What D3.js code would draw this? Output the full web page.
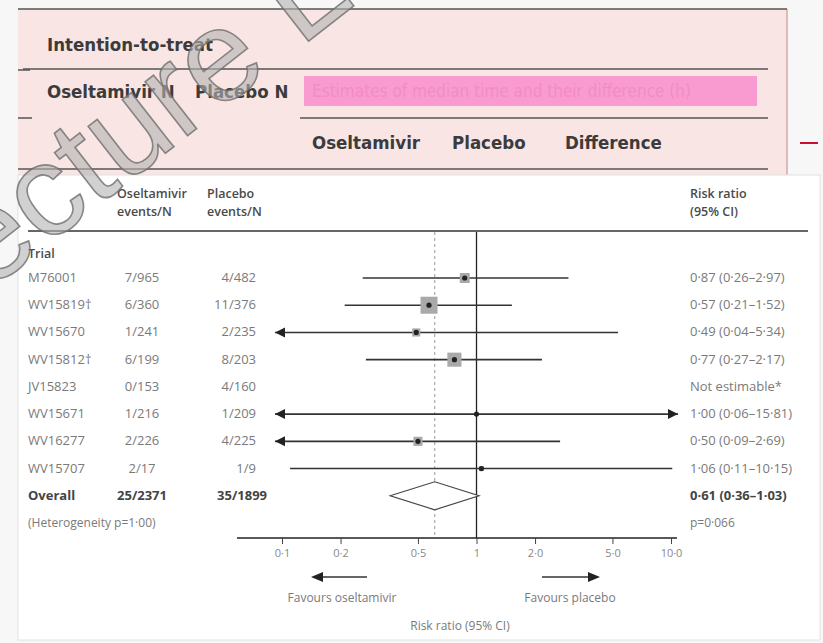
<!DOCTYPE html>
<html lang="en">
<head>
<meta charset="utf-8">
<script src="https://d3js.org/d3.v7.min.js"></script>
<style>
	body { margin: 0; background: #f7f7f7; }
	svg text { font-family: "Open Sans", "Noto Sans", sans-serif; }
	.hd { font-family: "DejaVu Sans Condensed", "Liberation Sans Narrow", "DejaVu Sans", sans-serif; font-stretch: condensed; font-weight: bold; font-size: 18.5px; fill: #3b3b3b; }
	.row { font-size: 13px; fill: #7a7a7a; }
	.colhd { font-size: 12.5px; fill: #4a4a4a; font-weight: 600; }
</style>
<title>Forest plot</title>
</head>
<body>
<script>
	// trial rows
	var trials = ["M76001", "WV15819†", "WV15670", "WV15812†", "JV15823", "WV15671", "WV16277", "WV15707"];
	var oselEvents = ["7/965", "6/360", "1/241", "6/199", "0/153", "1/216", "2/226", "2/17"];
	var placEvents = ["4/482", "11/376", "2/235", "8/203", "4/160", "1/209", "4/225", "1/9"];
	var rr = [0.87, 0.57, 0.49, 0.77, null, 1.00, 0.50, 1.06];
	var lo = [0.26, 0.21, 0.04, 0.27, null, 0.06, 0.09, 0.11];
	var hi = [2.97, 1.52, 5.34, 2.17, null, 15.81, 2.69, 10.15];
	var weight = [12, 35, 8, 24, 0, 1, 10, 3];
	var ciText = ["0·87 (0·26–2·97)", "0·57 (0·21–1·52)", "0·49 (0·04–5·34)", "0·77 (0·27–2·17)",
		"Not estimable*", "1·00 (0·06–15·81)", "0·50 (0·09–2·69)", "1·06 (0·11–10·15)"];

	// pooled result
	var overallEvents = ["25/2371", "35/1899"];
	var overallRR = [0.61, 0.36, 1.03];
	var overallText = "0·61 (0·36–1·03)";
	var heteroText = "(Heterogeneity p=1·00)";
	var pText = "p=0·066";

	// axis
	var tickValues = [0.1, 0.2, 0.5, 1, 2, 5, 10];
	var tickLabels = ["0·1", "0·2", "0·5", "1", "2·0", "5·0", "10·0"];

	var w = 823, h = 643;
	var svg = d3.select("body").append("svg").attr("width", w).attr("height", h);

	var x = d3.scaleLog().domain([0.1, 10]).range([282, 671]);
	var y = d3.scaleLinear().domain([0, 9]).range([278, 523]);
	var box = d3.scaleSqrt().domain([0, 35]).range([0, 17]);
	var xMin = x(0.1) - 7, xMax = x(10) + 7;

	// ---- pink header table ----
	svg.append("rect").attr("x", 18).attr("y", 9).attr("width", 769).attr("height", 166)
		.attr("fill", "#f8e5e4");
	svg.append("line").attr("x1", 787).attr("x2", 787).attr("y1", 9).attr("y2", 175)
		.attr("stroke", "#d6a9a9").attr("stroke-width", 1.5);
	var hl = [[18, 787, 9], [23, 768, 69], [300, 768, 118], [18, 768, 169], [18, 30, 70], [18, 32, 118]];
	svg.selectAll(".hl").data(hl).enter().append("line")
		.attr("x1", function(d) { return d[0]; }).attr("x2", function(d) { return d[1]; })
		.attr("y1", function(d) { return d[2]; }).attr("y2", function(d) { return d[2]; })
		.attr("stroke", "#555").attr("stroke-width", 1.5);
	svg.append("rect").attr("x", 304).attr("y", 76).attr("width", 453).attr("height", 30).attr("fill", "#f99bd0");
	svg.append("text").attr("class", "hd").attr("x", 312).attr("y", 97).style("fill", "#f28cc6").style("font-weight", "normal")
		.style("font-size", "17px").text("Estimates of median time and their difference (h)");
	svg.append("text").attr("class", "hd").attr("x", 47).attr("y", 51).text("Intention-to-treat");
	svg.append("text").attr("class", "hd").attr("x", 47).attr("y", 98).text("Oseltamivir N");
	svg.append("text").attr("class", "hd").attr("x", 195).attr("y", 98).text("Placebo N");
	svg.append("text").attr("class", "hd").attr("x", 312).attr("y", 149).text("Oseltamivir");
	svg.append("text").attr("class", "hd").attr("x", 452).attr("y", 149).text("Placebo");
	svg.append("text").attr("class", "hd").attr("x", 565).attr("y", 149).text("Difference");
	svg.append("line").attr("x1", 800).attr("x2", 818).attr("y1", 143).attr("y2", 143)
		.attr("stroke", "#c8102e").attr("stroke-width", 2);

	// ---- forest plot panel ----
	svg.append("rect").attr("x", 18).attr("y", 175).attr("width", 802).attr("height", 465)
		.attr("fill", "#fff").attr("stroke", "#e2e2e2");

	svg.append("text").attr("class", "colhd").attr("x", 117).attr("y", 198).text("Oseltamivir");
	svg.append("text").attr("class", "colhd").attr("x", 117).attr("y", 216).text("events/N");
	svg.append("text").attr("class", "colhd").attr("x", 207).attr("y", 198).text("Placebo");
	svg.append("text").attr("class", "colhd").attr("x", 207).attr("y", 216).text("events/N");
	svg.append("text").attr("class", "colhd").attr("x", 690).attr("y", 198).text("Risk ratio");
	svg.append("text").attr("class", "colhd").attr("x", 690).attr("y", 216).text("(95% CI)");
	svg.append("line").attr("x1", 28).attr("x2", 808).attr("y1", 231).attr("y2", 231)
		.attr("stroke", "#333").attr("stroke-width", 1.5);
	svg.append("text").attr("class", "colhd").attr("x", 28).attr("y", 258).text("Trial");

	// reference lines
	svg.append("line").attr("x1", x(overallRR[0])).attr("x2", x(overallRR[0])).attr("y1", 232).attr("y2", 538)
		.attr("stroke", "#999").attr("stroke-dasharray", "3,3");
	svg.append("line").attr("x1", x(1)).attr("x2", x(1)).attr("y1", 232).attr("y2", 538)
		.attr("stroke", "#222").attr("stroke-width", 1.3);

	var idx = d3.range(trials.length);
	var rows = svg.selectAll(".trial").data(idx).enter().append("g").attr("class", "trial");
	rows.append("text").attr("class", "row").attr("x", 28).attr("y", function(i) { return y(i) + 4; })
		.text(function(i) { return trials[i]; });
	rows.append("text").attr("class", "row").attr("x", 142).attr("text-anchor", "middle").attr("y", function(i) { return y(i) + 4; })
		.text(function(i) { return oselEvents[i]; });
	rows.append("text").attr("class", "row").attr("x", 256).attr("text-anchor", "end").attr("y", function(i) { return y(i) + 4; })
		.text(function(i) { return placEvents[i]; });
	rows.append("text").attr("class", "row").attr("x", 690).attr("y", function(i) { return y(i) + 4; })
		.text(function(i) { return ciText[i]; });

	var est = rows.filter(function(i) { return rr[i] != null; });
	est.append("line")
		.attr("x1", function(i) { return Math.max(x(lo[i]), xMin); })
		.attr("x2", function(i) { return Math.min(x(hi[i]), xMax); })
		.attr("y1", function(i) { return y(i); }).attr("y2", function(i) { return y(i); })
		.attr("stroke", "#333").attr("stroke-width", 1.6);
	est.filter(function(i) { return x(lo[i]) < xMin; }).append("path")
		.attr("d", function(i) { return "M" + xMin + "," + y(i) + "l10,-5v10z"; }).attr("fill", "#222");
	est.filter(function(i) { return x(hi[i]) > xMax; }).append("path")
		.attr("d", function(i) { return "M" + xMax + "," + y(i) + "l-10,-5v10z"; }).attr("fill", "#222");
	est.append("rect")
		.attr("x", function(i) { return x(rr[i]) - box(weight[i]) / 2; })
		.attr("y", function(i) { return y(i) - box(weight[i]) / 2; })
		.attr("width", function(i) { return box(weight[i]); })
		.attr("height", function(i) { return box(weight[i]); })
		.attr("fill", "#a9a9a9");
	est.append("circle").attr("cx", function(i) { return x(rr[i]); }).attr("cy", function(i) { return y(i); })
		.attr("r", 2.6).attr("fill", "#222");

	// overall row
	var yo = y(8);
	svg.append("text").attr("class", "row").attr("x", 28).attr("y", yo + 4).style("font-weight", "bold").style("fill", "#444").text("Overall");
	svg.append("text").attr("class", "row").attr("x", 142).attr("text-anchor", "middle").attr("y", yo + 4)
		.style("font-weight", "bold").style("fill", "#444").text(overallEvents[0]);
	svg.append("text").attr("class", "row").attr("x", 267).attr("text-anchor", "end").attr("y", yo + 4)
		.style("font-weight", "bold").style("fill", "#444").text(overallEvents[1]);
	svg.append("text").attr("class", "row").attr("x", 690).attr("y", yo + 4)
		.style("font-weight", "bold").style("fill", "#444").text(overallText);
	svg.append("path")
		.attr("d", "M" + x(overallRR[1]) + "," + yo + "L" + x(overallRR[0]) + "," + (yo - 14) +
			"L" + x(overallRR[2]) + "," + yo + "L" + x(overallRR[0]) + "," + (yo + 14) + "Z")
		.attr("fill", "#fff").attr("stroke", "#444").attr("stroke-width", 1.2);
	svg.append("text").attr("class", "row").attr("x", 28).attr("y", y(9) + 4).style("font-size", "12px").text(heteroText);
	svg.append("text").attr("class", "row").attr("x", 690).attr("y", y(9) + 4).style("font-size", "12px").text(pText);

	// x axis
	svg.append("line").attr("x1", 237).attr("x2", 677).attr("y1", 538).attr("y2", 538)
		.attr("stroke", "#222").attr("stroke-width", 1.6);
	var ax = svg.append("g").attr("transform", "translate(0,538)")
		.call(d3.axisBottom(x).tickValues(tickValues).tickSize(6).tickSizeOuter(0)
			.tickFormat(function(d, i) { return tickLabels[i]; }));
	ax.select(".domain").remove();
	ax.selectAll(".tick line").attr("stroke", "#444");
	ax.selectAll(".tick text").attr("fill", "#888").style("font-size", "11px").attr("dy", "0.9em");

	// favours arrows
	svg.append("line").attr("x1", 367).attr("x2", 318).attr("y1", 577).attr("y2", 577).attr("stroke", "#333").attr("stroke-width", 1.5);
	svg.append("path").attr("d", "M311,577l12,-5v10z").attr("fill", "#222");
	svg.append("line").attr("x1", 542).attr("x2", 592).attr("y1", 577).attr("y2", 577).attr("stroke", "#333").attr("stroke-width", 1.5);
	svg.append("path").attr("d", "M600,577l-12,-5v10z").attr("fill", "#222");
	svg.append("text").attr("class", "row").attr("x", 342).attr("y", 602).attr("text-anchor", "middle").style("font-size", "12px").text("Favours oseltamivir");
	svg.append("text").attr("class", "row").attr("x", 570).attr("y", 602).attr("text-anchor", "middle").style("font-size", "12px").text("Favours placebo");
	svg.append("text").attr("class", "row").attr("x", 460).attr("y", 630).attr("text-anchor", "middle").style("font-size", "12px").text("Risk ratio (95% CI)");

	// watermark
	svg.append("text").attr("transform", "translate(-70,337) rotate(-38)")
		.style("font-family", "'Liberation Sans', sans-serif")
		.style("font-size", "130px").attr("fill", "#b3b3b3").attr("fill-opacity", 0.6)
		.attr("stroke", "#6e6e6e").attr("stroke-width", 1.6).attr("stroke-opacity", 0.8)
		.text("Lecture L");
</script>
</body>
</html>
